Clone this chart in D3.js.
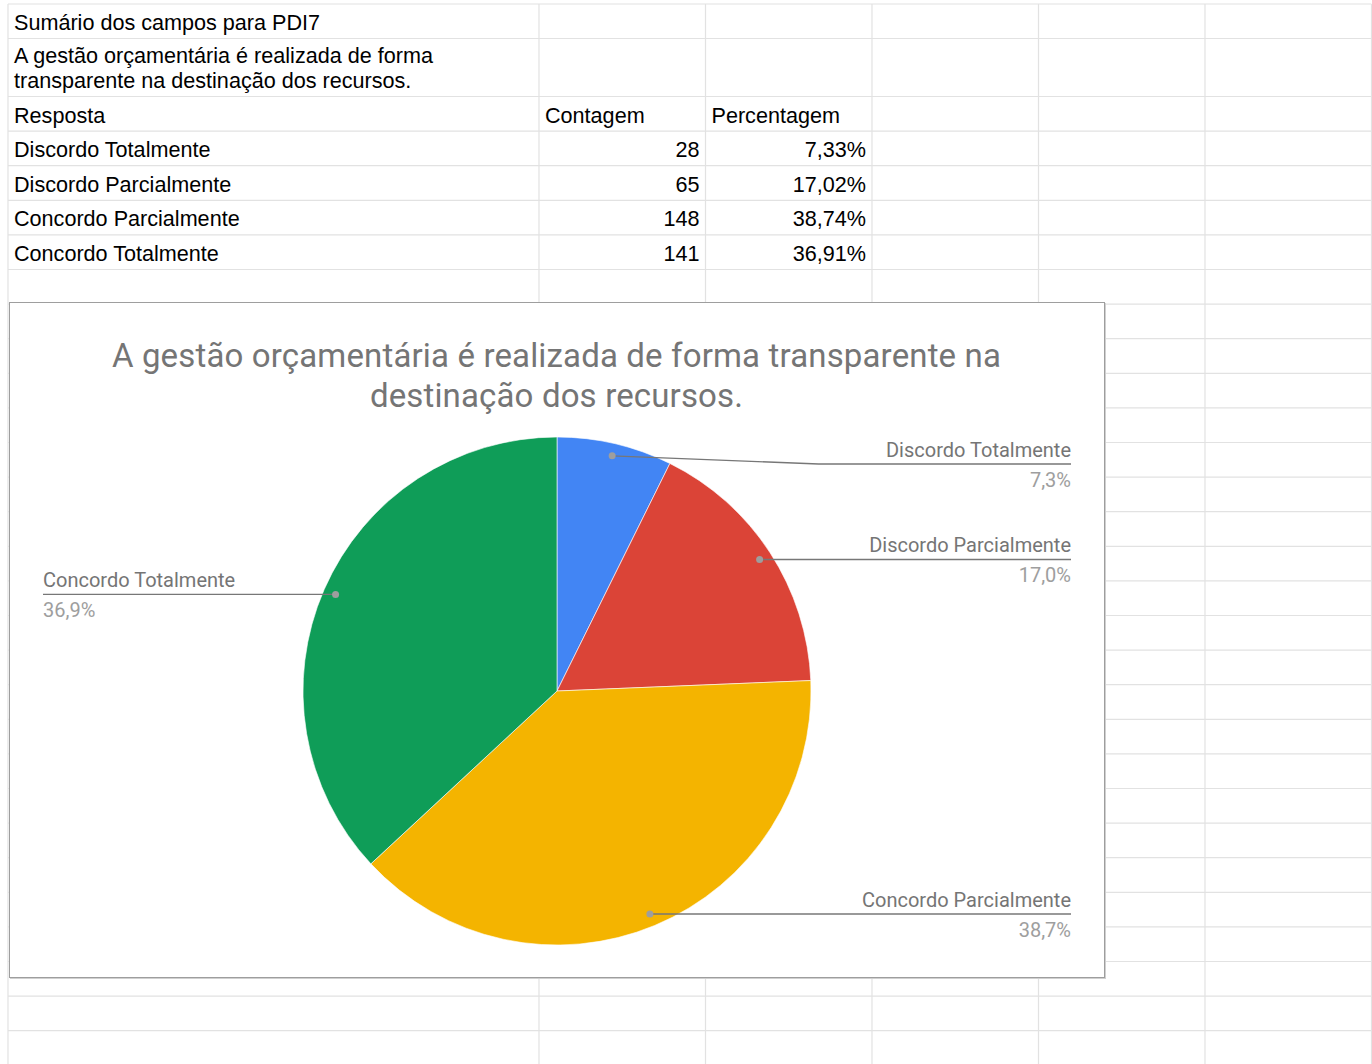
<!DOCTYPE html>
<html>
<head>
<meta charset="utf-8">
<script src="https://cdn.jsdelivr.net/npm/d3@7"></script>
<style>
  html, body { margin: 0; padding: 0; background: #ffffff; }
  svg { display: block; }
</style>
</head>
<body>
<svg id="page" width="1372" height="1064"></svg>
<script>
// ---------- data ----------
const sheetTitle = "Sumário dos campos para PDI7";
const questionLines = ["A gestão orçamentária é realizada de forma", "transparente na destinação dos recursos."];
const headers = ["Resposta", "Contagem", "Percentagem"];
const categories = ["Discordo Totalmente", "Discordo Parcialmente", "Concordo Parcialmente", "Concordo Totalmente"];
const counts = [28, 65, 148, 141];
const percentages = [7.33, 17.02, 38.74, 36.91];
const chartTitleLines = ["A gestão orçamentária é realizada de forma transparente na", "destinação dos recursos."];
const colors = ["#4285F4", "#DB4437", "#F4B400", "#0F9D58"];

// ---------- layout ----------
const W = 1372, H = 1064;
const svg = d3.select("#page");
const colX = [8, 539, 705.5, 872, 1038.5, 1205, 1371.5];
const rowH = 34.6;
const rowY = [4, 38.5, 96.5];
while (rowY[rowY.length - 1] + rowH < H + rowH) rowY.push(rowY[rowY.length - 1] + rowH);

const gridColor = "#e2e2e2";
const grid = svg.append("g");
colX.forEach(x => grid.append("line")
  .attr("x1", x).attr("x2", x).attr("y1", rowY[0]).attr("y2", H)
  .attr("stroke", gridColor).attr("stroke-width", 1.2));
rowY.forEach(y => grid.append("line")
  .attr("x1", colX[0]).attr("x2", colX[colX.length - 1]).attr("y1", y).attr("y2", y)
  .attr("stroke", gridColor).attr("stroke-width", 1.2));

// ---------- table text ----------
const tFont = "Arial, 'Liberation Sans', sans-serif";
const tSize = 21.6;
const tbl = svg.append("g").attr("font-family", tFont).attr("font-size", tSize).attr("fill", "#000");
const padL = 6, padR = 6, baseOff = 8.5;
tbl.append("text").attr("x", colX[0] + padL).attr("y", rowY[1] - baseOff).text(sheetTitle);
questionLines.forEach((t, i) => tbl.append("text")
  .attr("x", colX[0] + padL).attr("y", rowY[2] - baseOff - (questionLines.length - 1 - i) * 25).text(t));
headers.forEach((h, i) => tbl.append("text")
  .attr("x", colX[i] + padL).attr("y", rowY[3] - baseOff).text(h));
const fmt2 = v => d3.format(".2f")(v).replace(".", ",") + "%";
categories.forEach((c, i) => {
  const yb = rowY[4 + i] - baseOff;
  tbl.append("text").attr("x", colX[0] + padL).attr("y", yb).text(c);
  tbl.append("text").attr("x", colX[2] - padR).attr("y", yb).attr("text-anchor", "end").text(counts[i]);
  tbl.append("text").attr("x", colX[3] - padR).attr("y", yb).attr("text-anchor", "end").text(fmt2(percentages[i]));
});

// ---------- chart box ----------
const box = { x: 9, y: 302, w: 1095, h: 675 };
svg.append("rect").attr("x", box.x + 1.5).attr("y", box.y + 1.5).attr("width", box.w).attr("height", box.h)
  .attr("fill", "none").attr("stroke", "#d0d0d0").attr("stroke-width", 1);
svg.append("rect").attr("x", box.x + 0.5).attr("y", box.y + 0.5).attr("width", box.w).attr("height", box.h)
  .attr("fill", "#fff").attr("stroke", "#9e9e9e").attr("stroke-width", 1);

const cFont = "Roboto, 'Noto Sans', sans-serif";
const chart = svg.append("g").attr("font-family", cFont);
const cxTitle = box.x + box.w / 2;
chartTitleLines.forEach((t, i) => chart.append("text")
  .attr("x", cxTitle).attr("y", 367 + i * 40)
  .attr("text-anchor", "middle").attr("font-size", 33).attr("letter-spacing", 0.15)
  .attr("fill", "#757575").text(t));

// ---------- pie ----------
const cx = 557, cy = 691, r = 254;
const pie = d3.pie().sort(null).value(d => d.count);
const data = categories.map((c, i) => ({ name: c, count: counts[i], pct: percentages[i], color: colors[i] }));
const arcs = pie(data);
const arcGen = d3.arc().innerRadius(0).outerRadius(r);
const g = chart.append("g").attr("transform", `translate(${cx},${cy})`);
g.selectAll("path").data(arcs).join("path")
  .attr("d", arcGen).attr("fill", d => d.data.color)
  .attr("stroke", "#fff").attr("stroke-width", 0.6);

// ---------- labels ----------
const dotR = r * 0.951;
const rightX = 1071, leftX = 43;
const minLabelY = cy - r + 27;
const fmt1 = v => d3.format(".1f")(v).replace(".", ",") + "%";
arcs.forEach(a => {
  const mid = (a.startAngle + a.endAngle) / 2;
  const dx = cx + dotR * Math.sin(mid);
  const dy = cy - dotR * Math.cos(mid);
  const right = mid < Math.PI;
  const ly = Math.max(dy, minLabelY);
  const endX = right ? rightX : leftX;
  let pts;
  if (Math.abs(ly - dy) > 0.5) {
    const bendX = dx + (endX - dx) * 0.45;
    pts = [[dx, dy], [bendX, ly], [endX, ly]];
  } else {
    pts = [[dx, dy], [endX, ly]];
  }
  chart.append("path").attr("d", d3.line()(pts))
    .attr("fill", "none").attr("stroke", "#777").attr("stroke-width", 1.3);
  chart.append("circle").attr("cx", dx).attr("cy", dy).attr("r", 3.5).attr("fill", "#9e9e9e");
  const anchor = right ? "end" : "start";
  chart.append("text").attr("x", endX).attr("y", ly - 7).attr("text-anchor", anchor)
    .attr("font-size", 20).attr("fill", "#757575").text(a.data.name);
  chart.append("text").attr("x", endX).attr("y", ly + 23).attr("text-anchor", anchor)
    .attr("font-size", 20).attr("fill", "#9e9e9e").text(fmt1(a.data.pct));
});
</script>
</body>
</html>
